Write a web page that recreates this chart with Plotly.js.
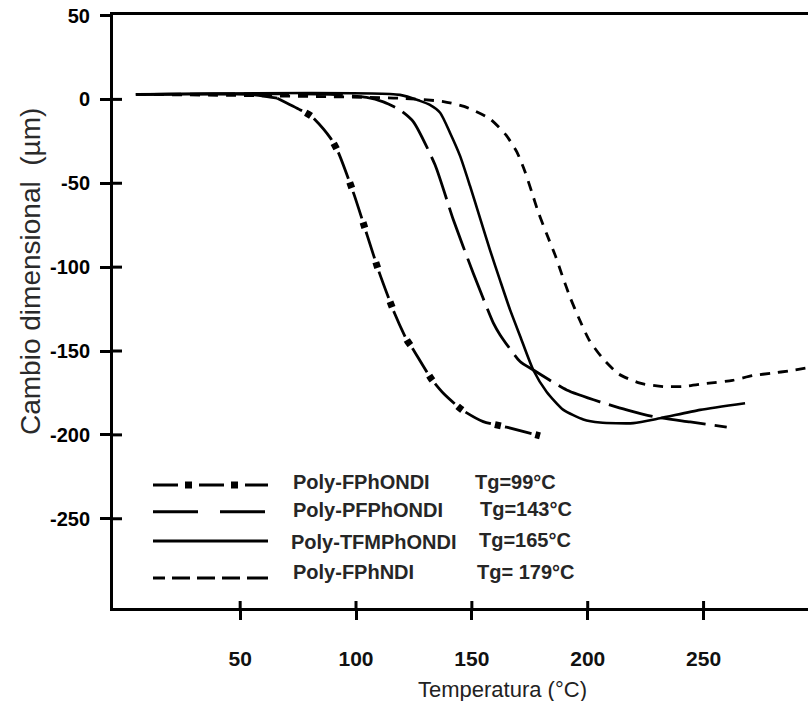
<!DOCTYPE html>
<html><head><meta charset="utf-8">
<script src="https://cdn.plot.ly/plotly-3.0.1.min.js"></script>
<style>html,body{margin:0;padding:0;overflow:hidden;background:#fff}#chart{width:808px;height:701px}</style>
</head><body><div id="chart"></div>
<script>
// ---- data ----
const seriesNames = ['Poly-FPhONDI', 'Poly-PFPhONDI', 'Poly-TFMPhONDI', 'Poly-FPhNDI'];
const tgLabels = ['Tg=99°C', 'Tg=143°C', 'Tg=165°C', 'Tg= 179°C'];
const xTickVals = [50, 100, 150, 200, 250];
const xTickText = ['50', '100', '150', '200', '250'];
const yTickVals = [-250, -200, -150, -100, -50, 0, 50];
const yTickText = ['-250', '-200', '-150', '-100', '-50', '0', '50'];
const xTitle = 'Temperatura (°C)';
const yTitle = 'Cambio dimensional\u00a0\u00a0(µm)';

const tempFPhONDI = [5, 54, 66, 76, 81, 89, 92.4, 99.1, 105, 109.9, 116.5, 121.9, 124.2, 132.5, 137.7, 145.8, 154.9, 165, 179.4];
const dimFPhONDI  = [3, 3, 0.7, -6.3, -10.3, -23.1, -31.7, -56.5, -81.8, -102.7, -127.1, -143.4, -148, -166.6, -175.2, -185.1, -192.1, -195.4, -200.6];

const tempPFPhONDI = [5, 88.8, 104.6, 111.8, 119.0, 124.7, 134.1, 142.0, 150.6, 159.3, 162.2, 170.8, 176.5, 190.9, 205.3, 216.8, 228.3, 244.2, 260.0];
const dimPFPhONDI  = [3, 3, 1.2, -1.5, -6.3, -13.2, -39.0, -71.8, -103.6, -133.4, -140.4, -156.3, -161.3, -173.2, -180.3, -185.1, -189.1, -192.3, -195.4];

const tempTFMPhONDI = [5, 119.0, 127.6, 131.9, 136.3, 140.6, 144.9, 149.2, 153.5, 157.8, 162.1, 166.5, 170.8, 176.5, 182.3, 189.5, 198.1, 205.3, 219.7, 231.2, 248.5, 267.9];
const dimTFMPhONDI  = [3, 2.7, -0.9, -3.3, -8.0, -20.0, -33.7, -51.6, -70.6, -89.7, -107.6, -125.5, -141.0, -161.3, -174.4, -185.1, -190.8, -192.6, -193.0, -190.1, -185.1, -181.1];

const tempFPhNDI = [5, 119.0, 137.7, 146.6, 157.8, 164.7, 169.4, 172.9, 175.8, 178.7, 182.3, 185.9, 188.9, 192.4, 196.3, 200.6, 206.4, 213.5, 222.6, 232.6, 241.6, 251.4, 262.5, 271.1, 280.1, 286.6, 297];
const dimFPhNDI  = [3, 0.7, -1.3, -4.2, -11.6, -21.2, -31.3, -43.0, -55.0, -67.4, -80.3, -92.7, -104.6, -118.0, -130.8, -143.4, -154.3, -163.8, -169.2, -171.2, -171.1, -169.3, -167.5, -164.7, -163.1, -161.9, -159.5];

// ---- styling ----
const FONT = '"Liberation Sans", Arial, sans-serif';
const INK = '#000';
const xRange = [-4.88, 295.07];
const yRange = [-303.2, 50.3];
const M = {l: 113, r: 0, t: 15, b: 93};
const W = 808, H = 701;
const plotW = W - M.l - M.r, plotH = H - M.t - M.b;
const px2x = p => (p - M.l) / plotW;
const py2y = p => (H - M.b - p) / plotH;
const xFrac = v => (v - xRange[0]) / (xRange[1] - xRange[0]);
const yFrac = v => (v - yRange[0]) / (yRange[1] - yRange[0]);

const SM = 0.6;
const lineBase = {shape: 'spline', smoothing: SM, color: INK};
const split = 2; // start of the dashed part of the first series

const traces = [
  {x: tempFPhONDI.slice(0, split + 1), y: dimFPhONDI.slice(0, split + 1), mode: 'lines',
   line: Object.assign({}, lineBase, {width: 2.8}), hoverinfo: 'skip'},
  {x: tempFPhONDI.slice(split), y: dimFPhONDI.slice(split), mode: 'lines',
   line: Object.assign({}, lineBase, {width: 2.8, dash: '28px,14px'}), hoverinfo: 'skip'},
  {x: tempFPhONDI.slice(split), y: dimFPhONDI.slice(split), mode: 'lines',
   line: Object.assign({}, lineBase, {width: 7, dash: '0px,32px,6px,4px'}), hoverinfo: 'skip'},
  {x: tempPFPhONDI, y: dimPFPhONDI, mode: 'lines',
   line: Object.assign({}, lineBase, {width: 2.8, dash: '45px,9px'}), hoverinfo: 'skip'},
  {x: tempTFMPhONDI, y: dimTFMPhONDI, mode: 'lines',
   line: Object.assign({}, lineBase, {width: 2.6}), hoverinfo: 'skip'},
  {x: tempFPhNDI, y: dimFPhNDI, mode: 'lines',
   line: Object.assign({}, lineBase, {width: 2.8, dash: '10px,8px'}), hoverinfo: 'skip'}
];

// ---- custom legend ----
const legX0 = 153, legX1 = 268;
const legLineY = [485, 511.7, 541, 578];
const legNameX = [291, 291, 289, 291];
const legNameY = [481.7, 510, 541.7, 571.7];
const legTgX = [473, 478, 477, 475];
const legTgY = [481.7, 509, 540, 571.7];
const legDash = [
  [{w: 3, d: '25px,21px'}, {w: 7, d: '0px,32px,7px,7px'}],
  [{w: 3, d: '45px,22px'}],
  [{w: 3, d: 'solid'}],
  [{w: 3, d: '12px,7px,18px,7px,18px,7px,18px,7px,21px'}]
];

const shapes = [];
const annotations = [];
seriesNames.forEach((name, i) => {
  legDash[i].forEach(s => {
    shapes.push({type: 'line', xref: 'paper', yref: 'paper',
      x0: px2x(legX0), x1: px2x(legX1), y0: py2y(legLineY[i]), y1: py2y(legLineY[i]),
      line: {color: INK, width: s.w, dash: s.d}});
  });
  annotations.push({xref: 'paper', yref: 'paper', x: px2x(legNameX[i]), y: py2y(legNameY[i]),
    xanchor: 'left', yanchor: 'middle', showarrow: false, text: name,
    font: {family: FONT, size: 20, weight: 700, color: '#262626'}});
  annotations.push({xref: 'paper', yref: 'paper', x: px2x(legTgX[i]), y: py2y(legTgY[i]),
    xanchor: 'left', yanchor: 'middle', showarrow: false, text: tgLabels[i],
    font: {family: FONT, size: 20, weight: 700, color: '#262626'}});
});

// inner halves of the crossing tick marks, drawn as filled rectangles
const xInnerLen = 7, yInnerLen = 9, tickHalfW = 1.5;
xTickVals.forEach(v => shapes.push({type: 'rect', xref: 'paper', yref: 'paper', layer: 'above',
  x0: xFrac(v) - tickHalfW / plotW, x1: xFrac(v) + tickHalfW / plotW, y0: 0, y1: xInnerLen / plotH,
  fillcolor: INK, line: {width: 0}}));
yTickVals.slice(0, 6).forEach(v => shapes.push({type: 'rect', xref: 'paper', yref: 'paper', layer: 'above',
  x0: 0, x1: yInnerLen / plotW, y0: yFrac(v) - tickHalfW / plotH, y1: yFrac(v) + tickHalfW / plotH,
  fillcolor: INK, line: {width: 0}}));

// axis titles
annotations.push({xref: 'paper', yref: 'paper', x: px2x(502), y: py2y(675),
  xanchor: 'center', yanchor: 'top', showarrow: false, text: xTitle,
  font: {family: FONT, size: 22, color: '#222'}});
annotations.push({xref: 'paper', yref: 'paper', x: px2x(31), y: py2y(272),
  xanchor: 'center', yanchor: 'middle', showarrow: false, text: yTitle, textangle: -90,
  font: {family: FONT, size: 28, color: '#2a2a2a'}});

const layout = {
  width: W, height: H,
  margin: {l: M.l, r: M.r, t: M.t, b: M.b, pad: 0},
  paper_bgcolor: '#fff', plot_bgcolor: '#fff',
  showlegend: false,
  font: {family: FONT, color: INK},
  xaxis: {range: xRange, showline: true, linewidth: 3, linecolor: INK, mirror: true,
    showgrid: false, zeroline: false, tickmode: 'array', tickvals: xTickVals, ticktext: xTickText,
    ticks: 'outside', ticklen: 9, tickwidth: 3, tickcolor: INK, ticklabelstandoff: 21,
    tickfont: {family: FONT, size: 21, weight: 700, color: '#111'}, fixedrange: true},
  yaxis: {range: yRange, showline: true, linewidth: 3, linecolor: INK, mirror: false,
    showgrid: false, zeroline: false, tickmode: 'array', tickvals: yTickVals, ticktext: yTickText,
    ticks: 'outside', ticklen: 10, tickwidth: 3, tickcolor: INK, ticklabelstandoff: 6,
    tickfont: {family: FONT, size: 20, weight: 700, color: '#000'}, fixedrange: true},
  shapes: shapes,
  annotations: annotations
};

Plotly.newPlot('chart', traces, layout, {displayModeBar: false, staticPlot: true});
</script>
</body></html>
